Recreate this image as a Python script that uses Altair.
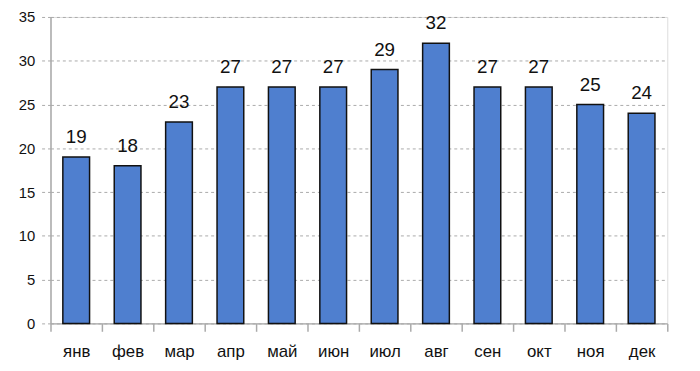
import altair as alt
import pandas as pd

months = ["янв", "фев", "мар", "апр", "май", "июн", "июл", "авг", "сен", "окт", "ноя", "дек"]
values = [19, 18, 23, 27, 27, 27, 29, 32, 27, 27, 25, 24]

df = pd.DataFrame({"month": months, "value": values})

FONT = "Liberation Sans"

x = alt.X("month:N", sort=months, title=None,
          scale=alt.Scale(paddingInner=0, paddingOuter=0),
          axis=alt.Axis(labelAngle=0, labelFontSize=17, labelColor="#111", labelFont=FONT,
                        labelPadding=12, tickBand="extent", tickSize=8, tickColor="#aaaaaa",
                        domainColor="#aaaaaa", domainWidth=1.5, tickWidth=1.5, grid=False))
y = alt.Y("value:Q", title=None,
          scale=alt.Scale(domain=[0, 35], nice=False),
          axis=alt.Axis(values=[0, 5, 10, 15, 20, 25, 30, 35], labelFontSize=15, labelColor="#111",
                        labelFont=FONT, labelPadding=6, tickSize=10, tickColor="#aaaaaa",
                        tickDash=[3, 3], domainColor="#aaaaaa", domainWidth=1.5,
                        grid=True, gridDash=[3, 3], gridColor="#aaaaaa", gridWidth=1))

bars = alt.Chart(df).mark_bar(color="#4f7fcf", stroke="#111111", strokeWidth=1.5,
                              width=alt.RelativeBandSize(0.52)).encode(x=x, y=y)
labels = alt.Chart(df).mark_text(dy=-20, fontSize=19, font=FONT, color="#111").encode(
    x=alt.X("month:N", sort=months), y="value:Q", text="value:Q")

chart = alt.layer(bars, labels).properties(
    width=624, height=310,
    autosize=alt.AutoSizeParams(type="none"),
    padding={"left": 43, "top": 7, "right": 25, "bottom": 38},
).configure_view(stroke=None).configure(background="white")

chart.save("out.html", embed_options={"renderer": "svg", "actions": False})
